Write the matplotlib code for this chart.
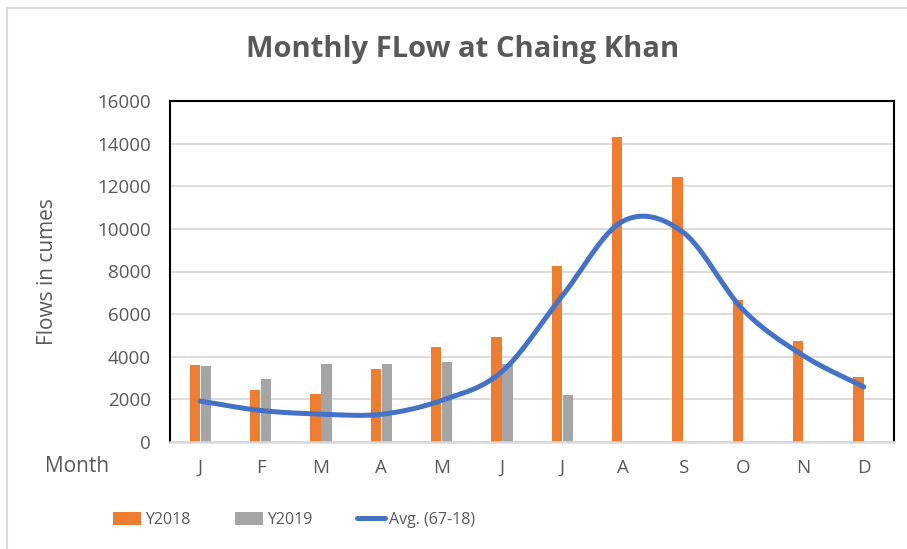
import numpy as np
import matplotlib.pyplot as plt
from matplotlib.patches import Rectangle

months = ['J', 'F', 'M', 'A', 'M', 'J', 'J', 'A', 'S', 'O', 'N', 'D']
y2018 = [3620, 2440, 2270, 3410, 4480, 4910, 8270, 14330, 12420, 6640, 4750, 3050]
y2019 = [3580, 2970, 3650, 3650, 3750, 3650, 2190, 0, 0, 0, 0, 0]
avg_67_18 = [1920, 1480, 1310, 1300, 1950, 3300, 6850, 10350, 9850, 6200, 4050, 2580]

szary = '#595959'
pomar = '#ED7D31'
popiel = '#A5A5A5'
nieb = '#4472C4'


def wygladz(xs, ys, n=30):
    # krzywa Catmull-Rom jak "smoothed line" w Excelu
    xs = np.asarray(xs, float)
    ys = np.asarray(ys, float)
    px = np.concatenate([[2 * xs[0] - xs[1]], xs, [2 * xs[-1] - xs[-2]]])
    py = np.concatenate([[2 * ys[0] - ys[1]], ys, [2 * ys[-1] - ys[-2]]])
    wx, wy = [], []
    t = np.linspace(0, 1, n, endpoint=False)
    for i in range(1, len(px) - 2):
        for p, w in ((px, wx), (py, wy)):
            p0, p1, p2, p3 = p[i - 1], p[i], p[i + 1], p[i + 2]
            w.extend(0.5 * (2 * p1 + (-p0 + p2) * t + (2 * p0 - 5 * p1 + 4 * p2 - p3) * t ** 2
                            + (-p0 + 3 * p1 - 3 * p2 + p3) * t ** 3))
    wx.append(xs[-1])
    wy.append(ys[-1])
    return np.array(wx), np.array(wy)


plt.rcParams['font.family'] = ['Open Sans', 'DejaVu Sans']

fig = plt.figure(figsize=(9.07, 5.49), dpi=100)
fig.patches.append(Rectangle((7 / 907, -0.05), 1.1, 1 - 8 / 549 + 0.05, transform=fig.transFigure,
                             fill=False, edgecolor='#d9d9d9', linewidth=1.5))
ax = fig.add_axes([170 / 907, 1 - 442 / 549, (894 - 170) / 907, (442 - 101) / 549])

x = np.arange(len(months))
sz = 0.17
b1 = ax.bar(x - sz / 2 - 0.005, y2018, sz, color=pomar, zorder=2)
b2 = ax.bar(x + sz / 2 + 0.01, y2019, sz, color=popiel, zorder=2)
gx, gy = wygladz(x, avg_67_18)
l1, = ax.plot(gx, gy, color=nieb, linewidth=3.6, solid_capstyle='round', zorder=3)

ax.set_xlim(-0.5, 11.5)
ax.set_ylim(0, 16000)
ax.set_yticks(range(0, 16001, 2000))
ax.set_xticks(x)
ax.set_xticklabels(months)
ax.grid(axis='y', color='#d9d9d9', linewidth=1.3, zorder=0)
ax.set_axisbelow(True)
ax.tick_params(length=0, labelsize=13.5, labelcolor=szary)
ax.tick_params(axis='x', pad=12)
ax.tick_params(axis='y', pad=14)
for s in ['left', 'top', 'right']:
    ax.spines[s].set_color('black')
    ax.spines[s].set_linewidth(1.5)
ax.spines['bottom'].set_color('#d9d9d9')
ax.spines['bottom'].set_linewidth(1.8)

ax.set_ylabel('Flows in cumes', fontsize=15, color=szary, labelpad=28)
fig.text(77 / 907, 1 - 467 / 549, 'Month', fontsize=15, color=szary, ha='center', va='center')
fig.text(463 / 907, 1 - 50 / 549, 'Monthly FLow at Chaing Khan', fontsize=21, fontweight='bold',
         color=szary, ha='center', va='center')

leg = fig.legend([b1, b2, l1], ['Y2018', 'Y2019', 'Avg. (67-18)'], loc='center left',
                 bbox_to_anchor=(100 / 907, 1 - 520 / 549), ncol=3, frameon=False,
                 fontsize=11.5, borderpad=0.3,
                 handlelength=1.75, handleheight=0.85, columnspacing=2.8, handletextpad=0.25,
                 labelcolor=szary)

fig.savefig('out.png')
